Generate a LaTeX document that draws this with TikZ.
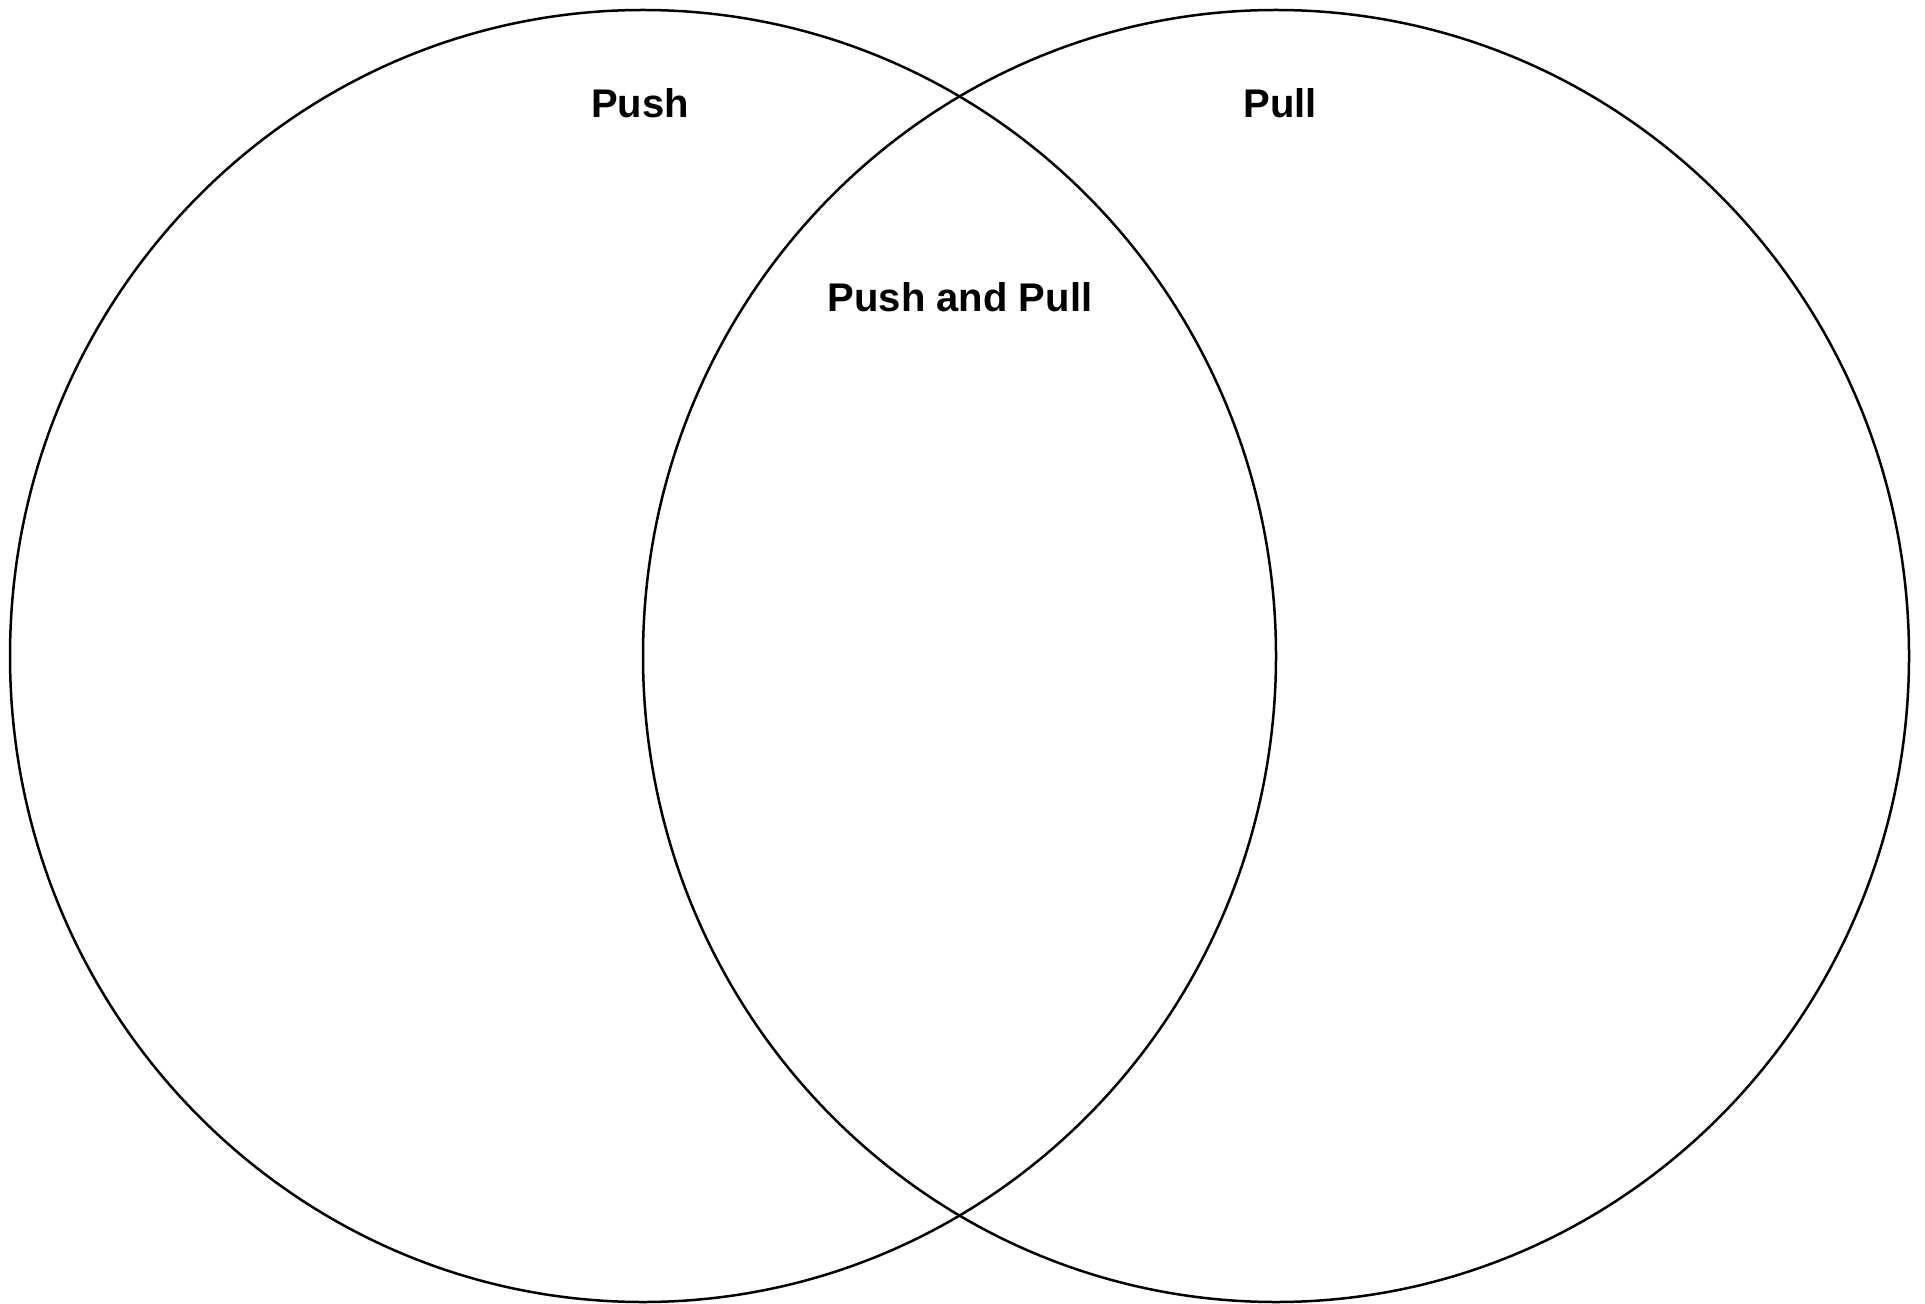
\documentclass[tikz,border=0pt]{standalone}
\usepackage{fontspec}
\setmainfont{Liberation Sans}
\usetikzlibrary{shapes.geometric}
\begin{document}
\begin{tikzpicture}[x=0.5pt,y=-0.5pt,
  setcircle/.style={ellipse, draw=black, line width=1.25pt, inner sep=0pt,
    minimum width=633pt, minimum height=646pt},
  setlabel/.style={font=\fontsize{20}{22}\selectfont\bfseries, anchor=base, inner sep=0pt}]
\useasboundingbox[fill=white] (0,0) rectangle (1925,1304);
\node[setcircle] (left) at (643,656) {};
\node[setcircle] (right) at (1276,656) {};
\node[setlabel] (push) at (640,118) {Push};
\node[setlabel] (pull) at (1280,118) {Pull};
\node[setlabel] (both) at (960,312) {Push and Pull};
\end{tikzpicture}
\end{document}
